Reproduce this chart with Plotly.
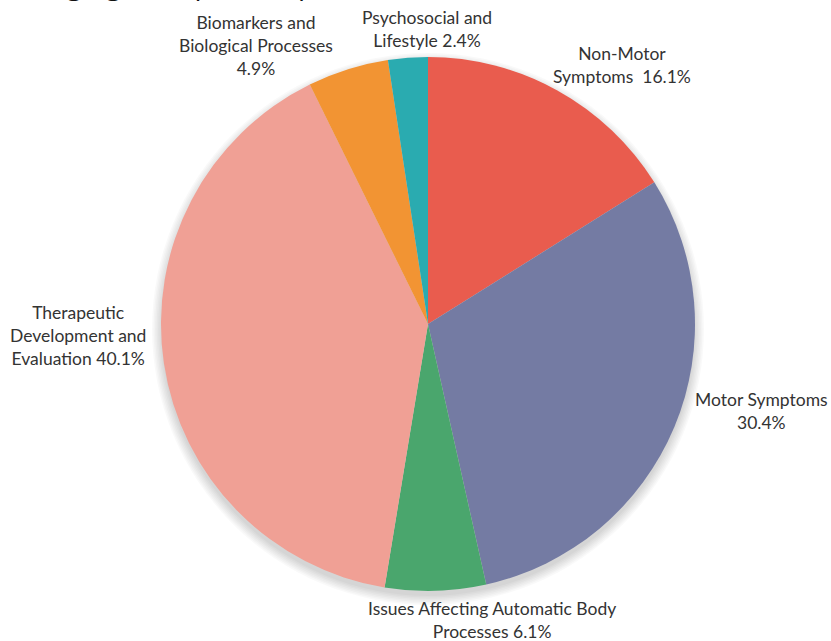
import plotly.graph_objects as go

# Share of studies by research topic
topics = [
    "Non-Motor Symptoms",
    "Motor Symptoms",
    "Issues Affecting Automatic Body Processes",
    "Therapeutic Development and Evaluation",
    "Biomarkers and Biological Processes",
    "Psychosocial and Lifestyle",
]
shares = [16.1, 30.4, 6.1, 40.1, 4.9, 2.4]
colors = ["#E95C4E", "#747BA3", "#4AA66D", "#F0A095", "#F29433", "#2AABB0"]

# Outside label layout: how each topic name is broken into lines
label_lines = [
    ["Non-Motor", "Symptoms  {v}%"],
    ["Motor Symptoms", "{v}%"],
    ["Issues Affecting Automatic Body", "Processes {v}%"],
    ["Therapeutic", "Development and", "Evaluation {v}%"],
    ["Biomarkers and", "Biological Processes", "{v}%"],
    ["Psychosocial and", "Lifestyle {v}%"],
]
# label centres in pixels (x, y of block centre)
label_pos = [(622, 65), (761, 411), (492, 620), (78, 335), (256, 45), (427, 29)]

W, H = 831, 641
cx, cy, r = 428, 324, 267

fig = go.Figure()
fig.add_trace(go.Pie(
    labels=topics,
    values=shares,
    marker=dict(colors=colors, line=dict(width=0)),
    sort=False,
    direction="clockwise",
    rotation=0,
    textinfo="none",
    hoverinfo="label+percent",
    showlegend=False,
    domain=dict(x=[(cx - r) / W, (cx + r) / W], y=[1 - (cy + r) / H, 1 - (cy - r) / H]),
))

# soft drop shadow under the pie
shapes = []
for i in range(7):
    rr = r + i * 1.5
    shapes.append(dict(
        type="circle", xref="paper", yref="paper", layer="below",
        x0=(cx - rr) / W, x1=(cx + rr) / W,
        y0=1 - (cy + 5 + rr) / H, y1=1 - (cy + 5 - rr) / H,
        fillcolor="rgba(0,0,0,0.025)", line=dict(width=0),
    ))

annotations = []
for lines, v, (px, py) in zip(label_lines, shares, label_pos):
    text = "<br>".join(l.format(v=v) for l in lines)
    annotations.append(dict(
        text=text, x=px / W, y=1 - py / H, xref="paper", yref="paper",
        xanchor="center", yanchor="middle", showarrow=False, align="center",
        font=dict(family="Lato", size=17.5, color="#333333"),
    ))

# chart title, sitting mostly above the top edge
annotations.append(dict(
    text="Emerging Groups of Topics in Parkinson's Research",
    x=-0.005, y=1 - 4.5 / H, xref="paper", yref="paper",
    xanchor="left", yanchor="bottom", showarrow=False,
    font=dict(family="Open Sans", size=28, color="#111111"),
))

fig.update_layout(
    width=W, height=H,
    margin=dict(l=0, r=0, t=0, b=0, autoexpand=False),
    paper_bgcolor="white", plot_bgcolor="white",
    shapes=shapes, annotations=annotations,
)

fig.write_html("out.html")
